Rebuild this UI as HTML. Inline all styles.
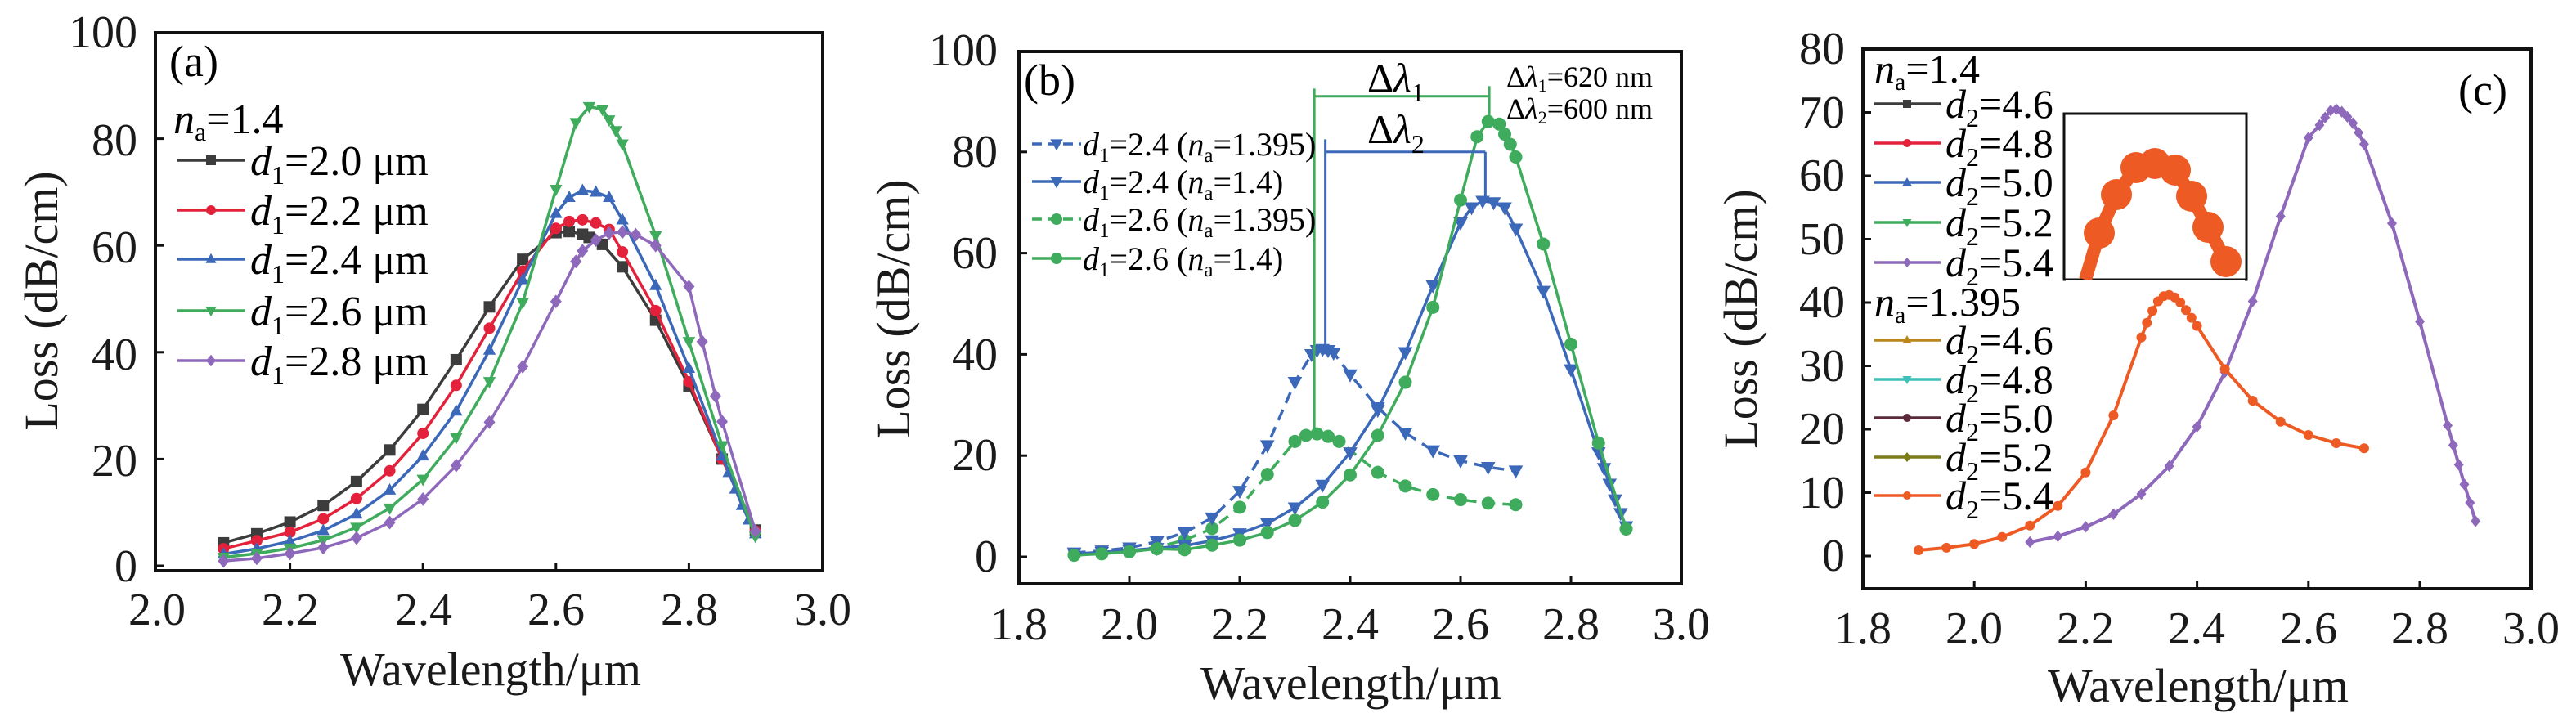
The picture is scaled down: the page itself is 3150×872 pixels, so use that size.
<!DOCTYPE html>
<html><head><meta charset="utf-8"><style>
html,body{margin:0;padding:0;background:#fff;}
svg{display:block;font-family:"Liberation Serif",serif;}
.t{font-size:56px;fill:#1a1a1a;}
.ti{font-size:58px;fill:#1a1a1a;}
</style></head><body>
<svg id="s" width="3150" height="872" viewBox="0 0 3150 872" xmlns="http://www.w3.org/2000/svg">
<g id="plots"></g>
<!-- Panel A text -->
<g class="t" text-anchor="end">
<text x="168" y="58">100</text><text x="168" y="190">80</text><text x="168" y="321">60</text><text x="168" y="452">40</text><text x="168" y="582">20</text><text x="168" y="711">0</text>
</g>
<g class="t" text-anchor="middle">
<text x="192" y="764">2.0</text><text x="355" y="764">2.2</text><text x="518" y="764">2.4</text><text x="680" y="764">2.6</text><text x="843" y="764">2.8</text><text x="1006" y="764">3.0</text>
</g>
<text class="ti" x="600" y="838" text-anchor="middle">Wavelength/μm</text>
<text class="ti" x="70" y="368" text-anchor="middle" transform="rotate(-90 70 368)">Loss (dB/cm)</text>
<text x="207" y="93" font-size="54">(a)</text>
<text x="212" y="163" font-size="52"><tspan font-style="italic">n</tspan><tspan font-size="32" dy="9">a</tspan><tspan dy="-9">=1.4</tspan></text>
<g font-size="52">
<text x="306" y="214"><tspan font-style="italic">d</tspan><tspan font-size="32" dy="11">1</tspan><tspan dy="-11">=2.0 μm</tspan></text>
<text x="306" y="275"><tspan font-style="italic">d</tspan><tspan font-size="32" dy="11">1</tspan><tspan dy="-11">=2.2 μm</tspan></text>
<text x="306" y="335"><tspan font-style="italic">d</tspan><tspan font-size="32" dy="11">1</tspan><tspan dy="-11">=2.4 μm</tspan></text>
<text x="306" y="398"><tspan font-style="italic">d</tspan><tspan font-size="32" dy="11">1</tspan><tspan dy="-11">=2.6 μm</tspan></text>
<text x="306" y="459"><tspan font-style="italic">d</tspan><tspan font-size="32" dy="11">1</tspan><tspan dy="-11">=2.8 μm</tspan></text>
</g>
<!-- Panel B text -->
<g class="t" text-anchor="end">
<text x="1220" y="80">100</text><text x="1220" y="204">80</text><text x="1220" y="328">60</text><text x="1220" y="452">40</text><text x="1220" y="575">20</text><text x="1220" y="699">0</text>
</g>
<g class="t" text-anchor="middle">
<text x="1246" y="782">1.8</text><text x="1381" y="782">2.0</text><text x="1516" y="782">2.2</text><text x="1651" y="782">2.4</text><text x="1786" y="782">2.6</text><text x="1921" y="782">2.8</text><text x="2056" y="782">3.0</text>
</g>
<text class="ti" x="1652" y="855" text-anchor="middle">Wavelength/μm</text>
<text class="ti" x="1112" y="378" text-anchor="middle" transform="rotate(-90 1112 378)">Loss (dB/cm)</text>
<text x="1252" y="116" font-size="54">(b)</text>
<text x="1672" y="112" font-size="50">Δ<tspan font-style="italic">λ</tspan><tspan font-size="32" dy="12">1</tspan></text>
<text x="1672" y="175" font-size="50">Δ<tspan font-style="italic">λ</tspan><tspan font-size="32" dy="12">2</tspan></text>
<text x="1842" y="106" font-size="36">Δ<tspan font-style="italic">λ</tspan><tspan font-size="22" dy="6">1</tspan><tspan dy="-6">=620 nm</tspan></text>
<text x="1842" y="145" font-size="36">Δ<tspan font-style="italic">λ</tspan><tspan font-size="22" dy="6">2</tspan><tspan dy="-6">=600 nm</tspan></text>
<g font-size="40">
<text x="1324" y="190"><tspan font-style="italic">d</tspan><tspan font-size="25" dy="8">1</tspan><tspan dy="-8">=2.4 (</tspan><tspan font-style="italic">n</tspan><tspan font-size="25" dy="8">a</tspan><tspan dy="-8">=1.395)</tspan></text>
<text x="1324" y="236"><tspan font-style="italic">d</tspan><tspan font-size="25" dy="8">1</tspan><tspan dy="-8">=2.4 (</tspan><tspan font-style="italic">n</tspan><tspan font-size="25" dy="8">a</tspan><tspan dy="-8">=1.4)</tspan></text>
<text x="1324" y="282"><tspan font-style="italic">d</tspan><tspan font-size="25" dy="8">1</tspan><tspan dy="-8">=2.6 (</tspan><tspan font-style="italic">n</tspan><tspan font-size="25" dy="8">a</tspan><tspan dy="-8">=1.395)</tspan></text>
<text x="1324" y="330"><tspan font-style="italic">d</tspan><tspan font-size="25" dy="8">1</tspan><tspan dy="-8">=2.6 (</tspan><tspan font-style="italic">n</tspan><tspan font-size="25" dy="8">a</tspan><tspan dy="-8">=1.4)</tspan></text>
</g>
<!-- Panel C text -->
<g class="t" text-anchor="end">
<text x="2256" y="78">80</text><text x="2256" y="156">70</text><text x="2256" y="233">60</text><text x="2256" y="311">50</text><text x="2256" y="388">40</text><text x="2256" y="466">30</text><text x="2256" y="543">20</text><text x="2256" y="621">10</text><text x="2256" y="698">0</text>
</g>
<g class="t" text-anchor="middle">
<text x="2278" y="787">1.8</text><text x="2414" y="787">2.0</text><text x="2550" y="787">2.2</text><text x="2686" y="787">2.4</text><text x="2823" y="787">2.6</text><text x="2959" y="787">2.8</text><text x="3095" y="787">3.0</text>
</g>
<text class="ti" x="2688" y="858" text-anchor="middle">Wavelength/μm</text>
<text class="ti" x="2148" y="390" text-anchor="middle" transform="rotate(-90 2148 390)">Loss (dB/cm)</text>
<text x="3006" y="128" font-size="54">(c)</text>
<g font-size="50">
<text x="2292" y="101"><tspan font-style="italic">n</tspan><tspan font-size="30" dy="9">a</tspan><tspan dy="-9">=1.4</tspan></text>
<text x="2292" y="386"><tspan font-style="italic">n</tspan><tspan font-size="30" dy="9">a</tspan><tspan dy="-9">=1.395</tspan></text>
</g>
<g font-size="50">
<text x="2379" y="144"><tspan font-style="italic">d</tspan><tspan font-size="32" dy="11">2</tspan><tspan dy="-11">=4.6</tspan></text>
<text x="2379" y="192"><tspan font-style="italic">d</tspan><tspan font-size="32" dy="11">2</tspan><tspan dy="-11">=4.8</tspan></text>
<text x="2379" y="240"><tspan font-style="italic">d</tspan><tspan font-size="32" dy="11">2</tspan><tspan dy="-11">=5.0</tspan></text>
<text x="2379" y="289"><tspan font-style="italic">d</tspan><tspan font-size="32" dy="11">2</tspan><tspan dy="-11">=5.2</tspan></text>
<text x="2379" y="338"><tspan font-style="italic">d</tspan><tspan font-size="32" dy="11">2</tspan><tspan dy="-11">=5.4</tspan></text>
<text x="2379" y="433"><tspan font-style="italic">d</tspan><tspan font-size="32" dy="11">2</tspan><tspan dy="-11">=4.6</tspan></text>
<text x="2379" y="481"><tspan font-style="italic">d</tspan><tspan font-size="32" dy="11">2</tspan><tspan dy="-11">=4.8</tspan></text>
<text x="2379" y="528"><tspan font-style="italic">d</tspan><tspan font-size="32" dy="11">2</tspan><tspan dy="-11">=5.0</tspan></text>
<text x="2379" y="576"><tspan font-style="italic">d</tspan><tspan font-size="32" dy="11">2</tspan><tspan dy="-11">=5.2</tspan></text>
<text x="2379" y="623"><tspan font-style="italic">d</tspan><tspan font-size="32" dy="11">2</tspan><tspan dy="-11">=5.4</tspan></text>
</g>
</svg>
<script>
var NS="http://www.w3.org/2000/svg",G=document.getElementById("plots");
function el(t,a){var e=document.createElementNS(NS,t);for(var k in a)e.setAttribute(k,a[k]);G.appendChild(e);return e;}
function mk(type,x,y,c,s){s=s||7;
 if(type=="sq")el("rect",{x:x-s,y:y-s,width:2*s,height:2*s,fill:c});
 else if(type=="ci")el("circle",{cx:x,cy:y,r:s,fill:c});
 else if(type=="tu")el("polygon",{points:(x)+","+(y-s*1.2)+" "+(x-s*1.1)+","+(y+s*0.8)+" "+(x+s*1.1)+","+(y+s*0.8),fill:c});
 else if(type=="td")el("polygon",{points:(x)+","+(y+s*1.2)+" "+(x-s*1.1)+","+(y-s*0.8)+" "+(x+s*1.1)+","+(y-s*0.8),fill:c});
 else if(type=="di")el("polygon",{points:x+","+(y-s*1.2)+" "+(x+s)+","+y+" "+x+","+(y+s*1.2)+" "+(x-s)+","+y,fill:c});
}
function frame(P){el("rect",{x:P.x0,y:P.top,width:P.x1-P.x0,height:P.bot-P.top,fill:"none",stroke:"#111","stroke-width":4});
 P.yt.forEach(function(v){var y=P.Y(v);el("line",{x1:P.x0,y1:y,x2:P.x0+10,y2:y,stroke:"#111","stroke-width":3});});
 P.xt.forEach(function(v){var x=P.X(v);el("line",{x1:x,y1:P.bot,x2:x,y2:P.bot-10,stroke:"#111","stroke-width":3});});}
function series(P,d,c,m,dash,s,w){var pts=[];for(var i=0;i<d.length;i+=2)pts.push(P.X(d[i]).toFixed(1)+","+P.Y(d[i+1]).toFixed(1));
 var a={points:pts.join(" "),fill:"none",stroke:c,"stroke-width":w||3.5,"stroke-linejoin":"round"};if(dash)a["stroke-dasharray"]=dash;el("polyline",a);
 for(var i=0;i<d.length;i+=2)mk(m,P.X(d[i]),P.Y(d[i+1]),c,s);}
var A={x0:190,x1:1006,top:40,bot:698,X:function(v){return 192+(v-2)*813;},Y:function(v){return 692-v*6.53;},yt:[0,20,40,60,80],xt:[2.2,2.4,2.6,2.8]};
var K="#3c3c3c",R="#e4213b",B="#3b68b8",Gr="#3fab5c",Pu="#8e68ba",O="#ee5a24";
var aK=[2.1,4.3,2.15,6,2.2,8.2,2.25,11.3,2.3,15.8,2.35,21.7,2.4,29.3,2.45,38.6,2.5,48.5,2.55,57.4,2.6,62.4,2.62,62.6,2.64,62.1,2.65,61.5,2.67,60.2,2.7,56,2.75,46,2.8,33.7,2.85,20,2.9,6.7];
var aR=[2.1,3.2,2.15,4.7,2.2,6.3,2.25,8.8,2.3,12.6,2.35,17.8,2.4,24.8,2.45,33.8,2.5,44.5,2.55,55.2,2.6,63.2,2.62,64.5,2.64,64.8,2.66,64.2,2.68,63,2.7,58.8,2.75,47.8,2.8,34.5,2.85,20,2.9,6.5];
var aB=[2.1,2.2,2.15,3.2,2.2,4.6,2.25,6.6,2.3,9.7,2.35,14.2,2.4,20.6,2.45,29,2.5,40.4,2.55,53.6,2.6,66,2.62,69,2.64,70.3,2.66,70,2.68,69,2.7,64.8,2.75,52.5,2.8,37,2.85,20.6,2.86,17.5,2.87,14.4,2.88,11.3,2.89,8.6,2.9,6];
var aG=[2.1,1.6,2.15,2.3,2.2,3.3,2.25,4.8,2.3,7.2,2.35,10.8,2.4,16.2,2.45,24,2.5,34.5,2.55,49.3,2.6,70.5,2.63,83,2.65,86,2.67,85.5,2.68,83.5,2.69,81.5,2.7,79,2.75,61.8,2.8,42,2.85,22.5,2.9,5.5];
var aP=[2.1,0.9,2.15,1.4,2.2,2.3,2.25,3.4,2.3,5.2,2.35,8.1,2.4,12.5,2.45,18.8,2.5,26.9,2.55,37.3,2.6,49.5,2.63,57,2.64,59,2.66,61,2.68,62.3,2.7,62.5,2.72,62,2.75,60,2.8,52.3,2.82,42,2.84,31.8,2.85,27,2.9,6.5];
frame(A);
series(A,aK,K,"sq");series(A,aR,R,"ci");series(A,aB,B,"tu");series(A,aG,Gr,"td");series(A,aP,Pu,"di");
[[196,K,"sq"],[257,R,"ci"],[317,B,"tu"],[380,Gr,"td"],[441,Pu,"di"]].forEach(function(r){el("line",{x1:217,y1:r[0],x2:300,y2:r[0],stroke:r[1],"stroke-width":3.5});mk(r[2],258,r[0],r[1],6);});
var Bp={x0:1246,x1:2056,top:63,bot:714,X:function(v){return 1246+(v-1.8)*675;},Y:function(v){return 681-v*6.19;},yt:[0,20,40,60,80],xt:[2.0,2.2,2.4,2.6,2.8]};
frame(Bp);
var bBs=[1.9,0.6,1.95,0.9,2.0,1.3,2.05,1.7].concat(aB);
var bGs=[1.9,0.3,1.95,0.6,2.0,1.0,2.05,1.6,2.1,1.4].concat(aG.slice(2));
var bBd=[1.9,0.8,1.95,1.2,2.0,1.8,2.05,3,2.1,4.8,2.15,7.7,2.2,13,2.25,22,2.3,34.5,2.33,40,2.34,40.8,2.35,41,2.36,40.8,2.37,40.3,2.4,36,2.45,29.5,2.5,24.5,2.55,21,2.6,19,2.65,17.7,2.7,17];
var bGd=[1.9,0.4,1.95,0.7,2.0,1.1,2.05,1.9,2.1,3.3,2.15,5.6,2.2,9.8,2.25,16.3,2.3,22.8,2.32,24,2.34,24.3,2.36,23.8,2.38,22.8,2.45,16.7,2.5,14,2.55,12.3,2.6,11.3,2.65,10.6,2.7,10.3];
series(Bp,bGd,Gr,"ci","14 9",8);series(Bp,bBd,B,"td","14 9",8);
series(Bp,bBs,B,"td",null,8);series(Bp,bGs,Gr,"ci",null,8);
el("line",{x1:Bp.X(2.335),y1:Bp.Y(24),x2:Bp.X(2.335),y2:Bp.Y(92.5),stroke:Gr,"stroke-width":3});
el("line",{x1:Bp.X(2.335),y1:Bp.Y(91),x2:Bp.X(2.652),y2:Bp.Y(91),stroke:Gr,"stroke-width":3});
el("line",{x1:Bp.X(2.652),y1:Bp.Y(93),x2:Bp.X(2.652),y2:Bp.Y(86),stroke:Gr,"stroke-width":3});
el("line",{x1:Bp.X(2.355),y1:Bp.Y(40),x2:Bp.X(2.355),y2:Bp.Y(82.5),stroke:B,"stroke-width":3});
el("line",{x1:Bp.X(2.355),y1:Bp.Y(80),x2:Bp.X(2.645),y2:Bp.Y(80),stroke:B,"stroke-width":3});
el("line",{x1:Bp.X(2.645),y1:Bp.Y(80),x2:Bp.X(2.645),y2:Bp.Y(70),stroke:B,"stroke-width":3});
[[176,B,"td","12 7"],[222,B,"td",null],[268,Gr,"ci","12 7"],[316,Gr,"ci",null]].forEach(function(r){var a={x1:1262,y1:r[0],x2:1322,y2:r[0],stroke:r[1],"stroke-width":3.5};if(r[3])a["stroke-dasharray"]=r[3];el("line",a);mk(r[2],1292,r[0],r[1],7);});
var C={x0:2278,x1:3095,top:60,bot:720,X:function(v){return 2278+(v-1.8)*681;},Y:function(v){return 680-v*7.75;},yt:[0,10,20,30,40,50,60,70],xt:[2.0,2.2,2.4,2.6,2.8]};
frame(C);
var cP=[2.1,2.2,2.15,3.1,2.2,4.6,2.25,6.6,2.3,9.8,2.35,14.2,2.4,20.4,2.45,29,2.5,40.2,2.55,53.6,2.6,66,2.62,68,2.63,69.2,2.64,70.3,2.65,70.5,2.66,70.1,2.67,69.3,2.68,68.3,2.69,66.8,2.7,65,2.75,52.5,2.8,37,2.85,20.6,2.86,17.5,2.87,14.4,2.88,11.3,2.89,8.4,2.9,5.5];
var cO=[1.9,0.9,1.95,1.3,2.0,1.9,2.05,3,2.1,4.8,2.15,7.9,2.2,13.2,2.25,22.2,2.3,34.5,2.31,36.8,2.32,38.7,2.33,40.2,2.34,41,2.35,41.2,2.36,40.8,2.37,40,2.38,38.8,2.39,37.6,2.4,36.3,2.45,29.5,2.5,24.5,2.55,21.2,2.6,19.1,2.65,17.8,2.7,17];
series(C,cP,Pu,"di",null,6,4);series(C,cO,O,"ci",null,6,4);
var cl=[[127,K,"sq"],[175,R,"ci"],[223,B,"tu"],[272,Gr,"td"],[321,Pu,"di"],[416,"#b8861b","tu"],[464,"#3cc0b8","td"],[511,"#5a2a3a","ci"],[559,"#7b7b1a","di"],[606,O,"ci"]];
cl.forEach(function(r){el("line",{x1:2292,y1:r[0],x2:2373,y2:r[0],stroke:r[1],"stroke-width":3.5});mk(r[2],2332,r[0],r[1],5);});
el("rect",{x:2524,y:139,width:223,height:203,fill:"#fff",stroke:"#111","stroke-width":3});
var ins=[[2550,342],[2567,285],[2588,238],[2612,205],[2635,200],[2660,208],[2680,240],[2700,278],[2722,320]];
el("polyline",{points:ins.map(function(p){return p.join(",");}).join(" "),fill:"none",stroke:O,"stroke-width":16,"stroke-linejoin":"round"});
ins.slice(1).forEach(function(p){el("circle",{cx:p[0]+13,cy:p[1]+6,r:4,fill:"#3cc0b8"});el("circle",{cx:p[0]-13,cy:p[1]+5,r:4,fill:"#b8861b"});el("circle",{cx:p[0],cy:p[1],r:19,fill:O});});
el("rect",{x:2526,y:342,width:219,height:12,fill:"#fff"});
</script>
</body></html>
